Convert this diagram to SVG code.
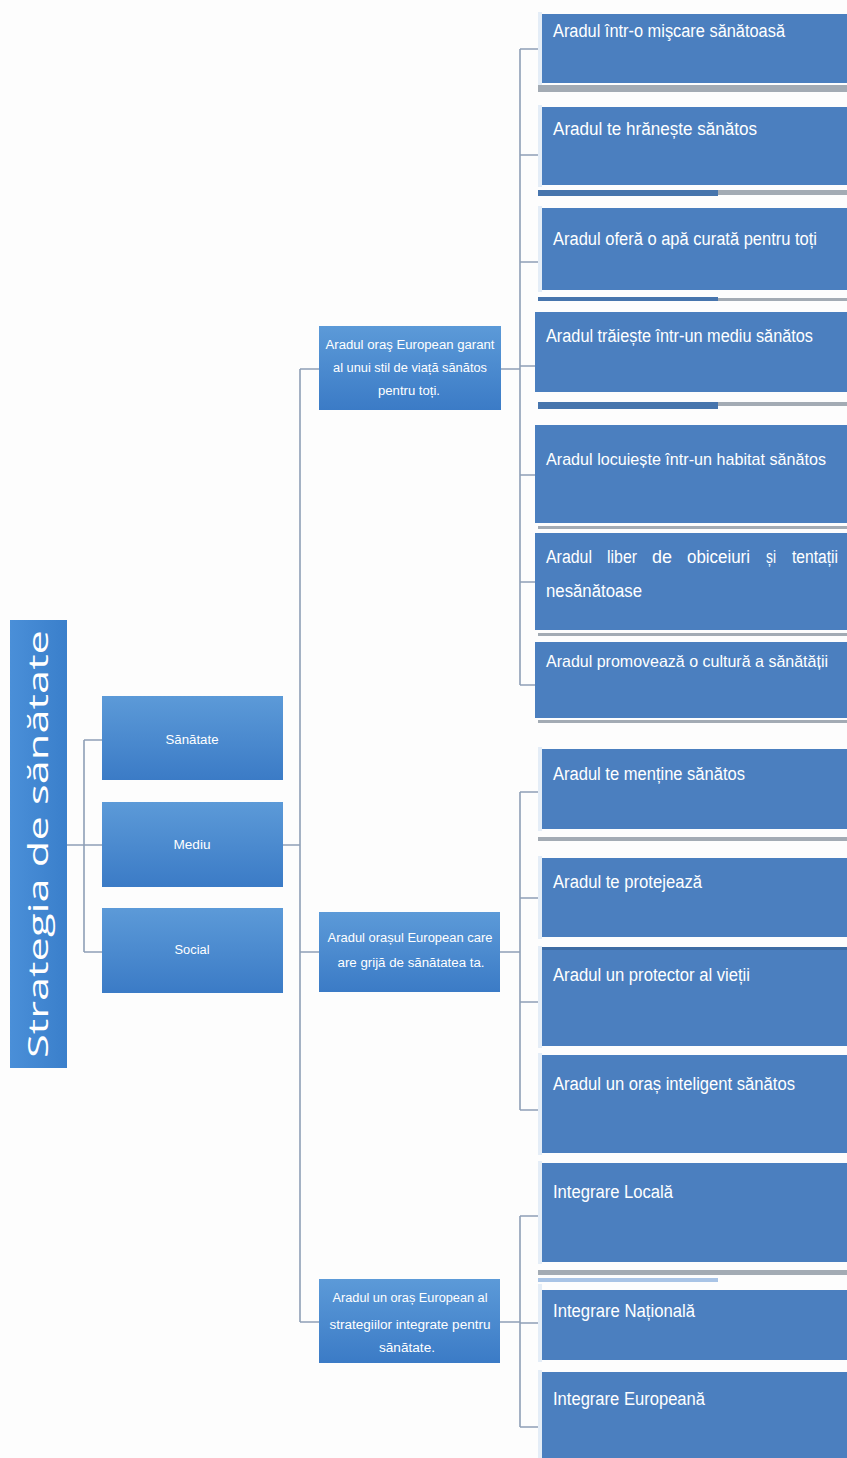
<svg xmlns="http://www.w3.org/2000/svg" width="847" height="1458" viewBox="0 0 847 1458">
<defs>
<linearGradient id="gLvl" x1="0" y1="0" x2="0" y2="1">
<stop offset="0" stop-color="#5c9ad8"/>
<stop offset="1" stop-color="#3b7bc6"/>
</linearGradient>
<linearGradient id="gRoot" x1="0" y1="0" x2="1" y2="0">
<stop offset="0" stop-color="#4a8fd8"/>
<stop offset="1" stop-color="#3a7fcb"/>
</linearGradient>
<style>
.conn{fill:none;stroke:#8e9fb6;stroke-width:1.6}
.lvl{fill:url(#gLvl)}
.leaf{fill:#4b7fbf}
.edge{fill:#e4edf7}
.shd{fill:#a3abb4}
.shb{fill:#4775ad}
.t{fill:#ffffff;font-family:"Liberation Sans Narrow","Liberation Sans",Arial,sans-serif}
.s{font-size:12.5px;text-anchor:middle}
.m{font-size:18px}
.m7{font-size:17px}
.r{font-size:28px;font-family:"Open Sans","Noto Sans",sans-serif;text-anchor:middle}
</style>
</defs>
<rect width="847" height="1458" fill="#fdfdfd"/>

<g id="connectors">
<path class="conn" d="M67 845H84M84 740V952M84 740H102M84 845H102M84 952H102"/>
<path class="conn" d="M283 845H300M300 369V1322M300 369H319M300 952H319M300 1322H319"/>
<path class="conn" d="M501 369H520M520 49V685M520 49H538M520 155H538M520 262H538M520 366H538M520 475H538M520 582H538M520 685H538"/>
<path class="conn" d="M500 952H520M520 792V1110M520 792H538M520 898H538M520 1002H538M520 1110H538"/>
<path class="conn" d="M500 1322H520M520 1216V1427M520 1216H538M520 1323H538M520 1427H538"/>
</g>

<g id="root">
<rect x="10" y="620" width="57" height="448" fill="url(#gRoot)"/>
<text class="t r" transform="translate(48 844) rotate(-90)" textLength="428" lengthAdjust="spacingAndGlyphs">Strategia de sănătate</text>
</g>

<g id="n-sanatate">
<rect class="lvl" x="102" y="696" width="181" height="84"/>
<text class="t s" x="192" y="744" textLength="53" lengthAdjust="spacingAndGlyphs">Sănătate</text>
</g>
<g id="n-mediu">
<rect class="lvl" x="102" y="802" width="181" height="85"/>
<text class="t s" x="192" y="849" textLength="37" lengthAdjust="spacingAndGlyphs">Mediu</text>
</g>
<g id="n-social">
<rect class="lvl" x="102" y="908" width="181" height="85"/>
<text class="t s" x="192" y="954" textLength="35" lengthAdjust="spacingAndGlyphs">Social</text>
</g>

<g id="n-a">
<rect class="lvl" x="319" y="326" width="182" height="84"/>
<text class="t s" x="410" y="349" textLength="169" lengthAdjust="spacingAndGlyphs">Aradul oraş European garant</text>
<text class="t s" x="410" y="372" textLength="154" lengthAdjust="spacingAndGlyphs">al unui stil de viață sănătos</text>
<text class="t s" x="409" y="395" textLength="62" lengthAdjust="spacingAndGlyphs">pentru toți.</text>
</g>
<g id="n-b">
<rect class="lvl" x="319" y="912" width="181" height="80"/>
<text class="t s" x="410" y="942" textLength="165" lengthAdjust="spacingAndGlyphs">Aradul orașul European care</text>
<text class="t s" x="411" y="967" textLength="147" lengthAdjust="spacingAndGlyphs">are grijă de sănătatea ta.</text>
</g>
<g id="n-c">
<rect class="lvl" x="319" y="1279" width="181" height="84"/>
<text class="t s" x="410" y="1302" textLength="155" lengthAdjust="spacingAndGlyphs">Aradul un oraș European al</text>
<text class="t s" x="410" y="1329" textLength="161" lengthAdjust="spacingAndGlyphs">strategiilor integrate pentru</text>
<text class="t s" x="407" y="1352" textLength="56" lengthAdjust="spacingAndGlyphs">sănătate.</text>
</g>

<g id="shadows">
<rect class="shd" x="538" y="85" width="309" height="7"/>
<rect class="shb" x="538" y="190" width="180" height="6"/>
<rect class="shd" x="718" y="190" width="129" height="5"/>
<rect class="shb" x="538" y="297" width="180" height="4"/>
<rect class="shd" x="718" y="298" width="129" height="3"/>
<rect class="shb" x="538" y="402" width="180" height="7"/>
<rect class="shd" x="718" y="402" width="129" height="4"/>
<rect class="shd" x="538" y="526" width="309" height="3"/>
<rect class="shd" x="538" y="633" width="309" height="3"/>
<rect class="shd" x="538" y="720" width="309" height="3"/>
<rect class="shd" x="538" y="837" width="309" height="4"/>
<rect class="shd" x="538" y="1270" width="309" height="5"/>
<rect x="538" y="1278" width="180" height="4" fill="#a9c4e6"/>
</g>

<g id="leaf1"><rect class="edge" x="538" y="12" width="4" height="73"/><rect class="leaf" x="542" y="14" width="305" height="69"/>
<text class="t m" x="553" y="37" textLength="232" lengthAdjust="spacingAndGlyphs">Aradul într-o mişcare sănătoasă</text></g>
<g id="leaf2"><rect class="edge" x="538" y="105" width="4" height="82"/><rect class="leaf" x="542" y="107" width="305" height="78"/>
<text class="t m" x="553" y="135" textLength="204" lengthAdjust="spacingAndGlyphs">Aradul  te hrănește sănătos</text></g>
<g id="leaf3"><rect class="edge" x="538" y="206" width="4" height="86"/><rect class="leaf" x="542" y="208" width="305" height="82"/>
<text class="t m" x="553" y="245" textLength="264" lengthAdjust="spacingAndGlyphs">Aradul oferă o apă curată pentru toți</text></g>
<g id="leaf4"><rect class="leaf" x="535" y="312" width="312" height="80"/>
<text class="t m" x="546" y="342" textLength="267" lengthAdjust="spacingAndGlyphs">Aradul trăiește într-un mediu sănătos</text></g>
<g id="leaf5"><rect class="leaf" x="535" y="425" width="312" height="98"/>
<text class="t m7" x="546" y="465" textLength="280" lengthAdjust="spacingAndGlyphs">Aradul locuiește într-un habitat sănătos</text></g>
<g id="leaf6"><rect class="leaf" x="535" y="533" width="312" height="97"/>
<text class="t m" x="546" y="563" textLength="46" lengthAdjust="spacingAndGlyphs">Aradul</text>
<text class="t m" x="607" y="563" textLength="30" lengthAdjust="spacingAndGlyphs">liber</text>
<text class="t m" x="652" y="563" textLength="20" lengthAdjust="spacingAndGlyphs">de</text>
<text class="t m" x="687" y="563" textLength="63" lengthAdjust="spacingAndGlyphs">obiceiuri</text>
<text class="t m" x="766" y="563" textLength="10" lengthAdjust="spacingAndGlyphs">și</text>
<text class="t m" x="792" y="563" textLength="46" lengthAdjust="spacingAndGlyphs">tentații</text>
<text class="t m" x="546" y="597" textLength="96" lengthAdjust="spacingAndGlyphs">nesănătoase</text></g>
<g id="leaf7"><rect class="leaf" x="535" y="642" width="312" height="76"/>
<text class="t m7" x="546" y="667" textLength="282" lengthAdjust="spacingAndGlyphs">Aradul promovează o cultură a sănătății</text></g>

<g id="leaf8"><rect class="edge" x="538" y="747" width="4" height="84"/><rect class="leaf" x="542" y="749" width="305" height="80"/>
<text class="t m" x="553" y="780" textLength="192" lengthAdjust="spacingAndGlyphs">Aradul te menține sănătos</text></g>
<g id="leaf9"><rect class="edge" x="538" y="856" width="4" height="83"/><rect class="leaf" x="542" y="858" width="305" height="79"/>
<text class="t m" x="553" y="888" textLength="149" lengthAdjust="spacingAndGlyphs">Aradul te protejează</text></g>
<g id="leaf10"><rect class="edge" x="538" y="946" width="4" height="102"/><rect class="leaf" x="542" y="948" width="305" height="98"/>
<rect x="542" y="947" width="305" height="3" fill="#3d6ba3"/>
<text class="t m" x="553" y="981" textLength="197" lengthAdjust="spacingAndGlyphs">Aradul un protector al vieții</text></g>
<g id="leaf11"><rect class="edge" x="538" y="1053" width="4" height="102"/><rect class="leaf" x="542" y="1055" width="305" height="98"/>
<text class="t m" x="553" y="1090" textLength="242" lengthAdjust="spacingAndGlyphs">Aradul un oraș inteligent sănătos</text></g>

<g id="leaf12"><rect class="edge" x="538" y="1161" width="4" height="103"/><rect class="leaf" x="542" y="1163" width="305" height="99"/>
<text class="t m" x="553" y="1198" textLength="120" lengthAdjust="spacingAndGlyphs">Integrare Locală</text></g>
<g id="leaf13"><rect class="edge" x="538" y="1284" width="4" height="78"/><rect class="leaf" x="542" y="1290" width="305" height="70"/>
<text class="t m" x="553" y="1317" textLength="142" lengthAdjust="spacingAndGlyphs">Integrare Națională</text></g>
<g id="leaf14"><rect class="edge" x="538" y="1370" width="4" height="88"/><rect class="leaf" x="542" y="1372" width="305" height="86"/>
<text class="t m" x="553" y="1405" textLength="152" lengthAdjust="spacingAndGlyphs">Integrare Europeană</text></g>
</svg>
